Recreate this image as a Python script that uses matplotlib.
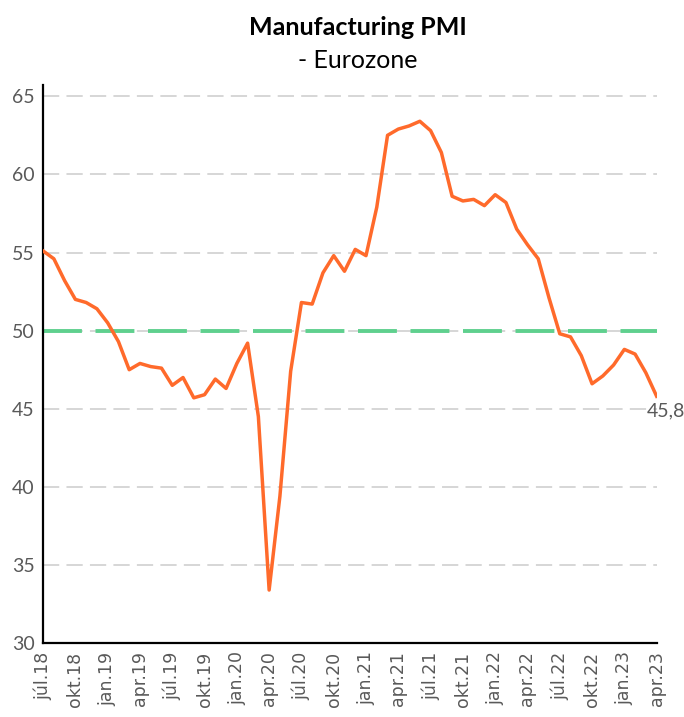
import matplotlib.pyplot as plt

plt.rcParams['font.family'] = ['Lato', 'DejaVu Sans']

# Eurozone manufacturing PMI, monthly jul.18 - apr.23
pmi = [55.1, 54.6, 53.2, 52.0, 51.8, 51.4,
       50.5, 49.3, 47.5, 47.9, 47.7, 47.6, 46.5, 47.0, 45.7, 45.9, 46.9, 46.3,
       47.9, 49.2, 44.5, 33.4, 39.4, 47.4, 51.8, 51.7, 53.7, 54.8, 53.8, 55.2,
       54.8, 57.9, 62.5, 62.9, 63.1, 63.4, 62.8, 61.4, 58.6, 58.3, 58.4, 58.0,
       58.7, 58.2, 56.5, 55.5, 54.6, 52.1, 49.8, 49.6, 48.4, 46.6, 47.1, 47.8,
       48.8, 48.5, 47.3, 45.8]
tick_labels = ['júl.18', 'okt.18', 'jan.19', 'apr.19', 'júl.19', 'okt.19',
               'jan.20', 'apr.20', 'júl.20', 'okt.20', 'jan.21', 'apr.21',
               'júl.21', 'okt.21', 'jan.22', 'apr.22', 'júl.22', 'okt.22',
               'jan.23', 'apr.23']
yticks = [30, 35, 40, 45, 50, 55, 60, 65]
threshold = 50

x = list(range(len(pmi)))
text_col = '#595959'

fig = plt.figure(figsize=(6.84, 7.17), dpi=100)
ax = fig.add_axes([0.063, 0.103, 0.897, 0.778])

for y in yticks[1:]:
    ax.axhline(y, color='#d3d3d3', linewidth=1.3, dashes=(9, 4), zorder=1)
ax.axhline(threshold, color='#5fd08e', linewidth=2.8, dashes=(10, 3.5), zorder=2)

ax.plot(x, pmi, color='#ff6a2b', linewidth=2.5, zorder=3, solid_joinstyle='round')
ax.text(x[-1] - 0.9, pmi[-1] - 0.4, f"{pmi[-1]:.1f}".replace('.', ','),
        ha='left', va='top', fontsize=14, color=text_col)

ax.set_xlim(0, len(pmi) - 1)
ax.set_ylim(30, 65.7)
ax.set_yticks(yticks)
ax.set_xticks(x[::3])
ax.set_xticklabels(tick_labels, rotation=90)
ax.tick_params(axis='y', labelsize=14, labelcolor=text_col, length=0, pad=6)
ax.tick_params(axis='x', length=0, pad=6, labelcolor=text_col,
               labelsize=12.5, labelfontfamily='DejaVu Sans')

for side in ['top', 'right']:
    ax.spines[side].set_visible(False)
for side in ['left', 'bottom']:
    ax.spines[side].set_linewidth(1.6)
    ax.spines[side].set_color('black')

fig.text(0.523, 0.962, 'Manufacturing PMI', ha='center', va='center',
         fontsize=18, fontweight='bold', color='black')
fig.text(0.523, 0.916, '- Eurozone', ha='center', va='center',
         fontsize=18, color='black')

fig.savefig('out.png', dpi=100)
